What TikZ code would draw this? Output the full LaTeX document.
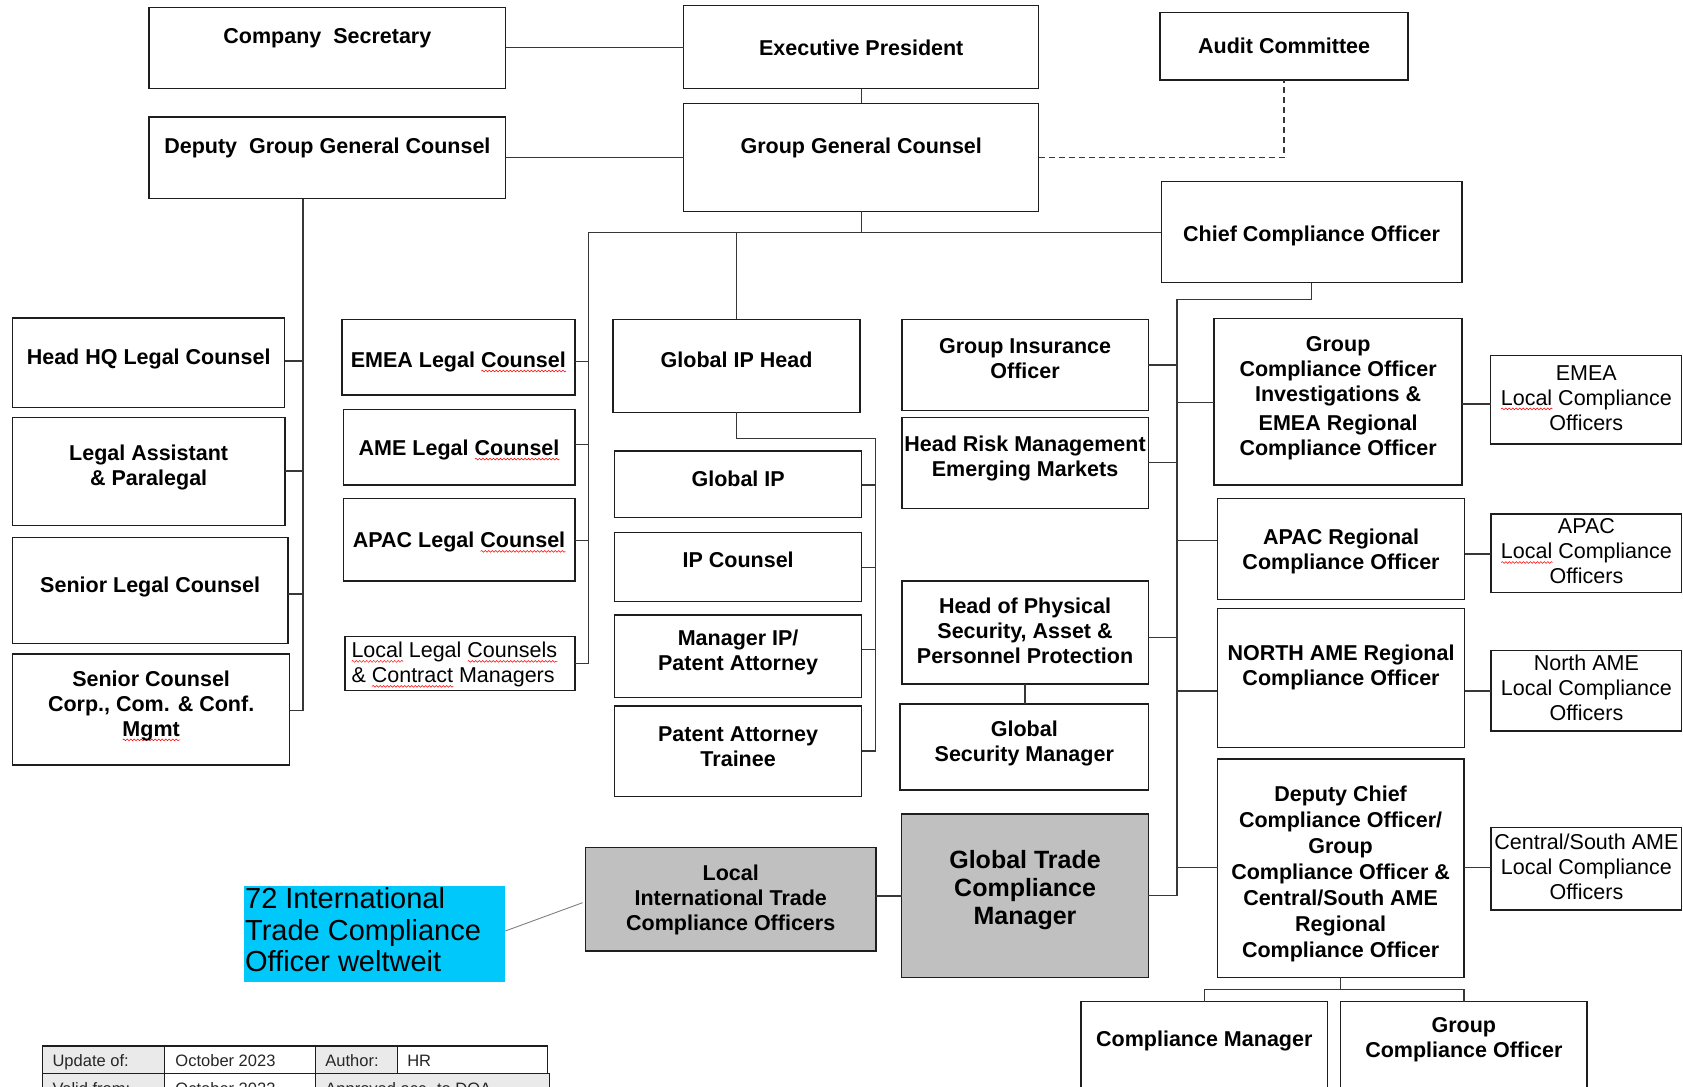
\documentclass[tikz,border=0pt]{standalone}
\usepackage{fontspec}
\setmainfont{Liberation Sans}
\usetikzlibrary{fit,decorations.pathmorphing}
\definecolor{cyanfill}{RGB}{0,200,250}
\definecolor{boxgrey}{RGB}{192,192,192}
\definecolor{cellgrey}{RGB}{234,234,234}
\definecolor{linecol}{RGB}{55,55,55}
\definecolor{bordercol}{RGB}{30,30,30}
\newsavebox\wvbox
\newcommand\rwave[1]{\sbox\wvbox{#1}\rlap{\tikz[baseline=0pt]\draw[red, line width=0.5pt, decorate, decoration={snake, amplitude=0.9pt, segment length=3.5pt}] (0pt,-3.8pt) -- (\the\wd\wvbox,-3.8pt);}\usebox\wvbox}
\newcommand{\obox}[6][]{%
  \coordinate (#2-a) at (#3,#4);
  \coordinate (#2-b) at (#5,#6);
  \node[orgbox,fit=(#2-a)(#2-b),#1] (#2) {};
}
\tikzset{
  orgbox/.style={draw=bordercol, line width=1.5pt, inner sep=0pt, outer sep=0pt, rectangle},
  conn/.style={draw=linecol, line width=1.4pt},
  bt/.style={align=center, inner sep=0pt, font=\fontsize{21.5}{25}\selectfont\bfseries,
    execute at begin node=\strut, execute at end node=\strut, yshift=-2.7pt},
  rt/.style={bt, font=\fontsize{21.5}{25}\selectfont},
  tabt/.style={inner sep=0pt, font=\fontsize{16.5}{19}\selectfont, text=black!85},
  cell/.style={draw=bordercol, line width=1.2pt, inner sep=0pt, outer sep=0pt, rectangle},
}
\begin{document}
\begin{tikzpicture}[x=1.0733pt, y=-1.0733pt]
\useasboundingbox (0,0) rectangle (1568,1012);
\fill[white] (0,0) rectangle (1568,1012);
\clip (0,0) rectangle (1568,1012);

% ---- top level
\obox{cs}{139}{7}{471}{82.6}
\node[bt] (cs-t) at (305,33.7) {Company\ \ Secretary};
\obox{ep}{637}{5.3}{967.7}{82.6}
\node[bt] (ep-t) at (802.4,44.4) {Executive President};
\obox{audit}{1080.7}{11.8}{1312}{74.5}
\node[bt] (audit-t) at (1196.4,42.9) {Audit Committee};
\obox{dgc}{139}{109}{471}{185}
\node[bt] (dgc-t) at (305,135.9) {Deputy\ \ Group General Counsel};
\obox{ggc}{637}{96.3}{967.7}{197}
\node[bt] (ggc-t) at (802.4,135.7) {Group General Counsel};
\obox{cco}{1082}{169.3}{1362}{263.4}
\node[bt] (cco-t) at (1222,217.4) {Chief Compliance Officer};

% ---- left column
\obox{hq}{11.7}{296.3}{265.2}{379.5}
\node[bt] (hq-t) at (138.5,332.3) {Head HQ Legal Counsel};
\obox{la}{11.7}{388.8}{265.3}{489.8}
\node[bt] (la-t) at (138.5,434) {Legal Assistant\\\& Paralegal};
\obox{slc}{11.7}{500.6}{268.1}{599.4}
\node[bt] (slc-t) at (139.9,544.4) {Senior Legal Counsel};
\obox{sc}{11.7}{609.3}{269.9}{712.8}
\node[bt] (sc-t) at (140.8,656.2) {Senior Counsel\\Corp., Com. \& Conf.\\\rwave{Mgmt}};

% ---- legal counsels
\obox{emea}{318.4}{297.5}{535.5}{368}
\node[bt] (emea-t) at (427,335) {EMEA Legal \rwave{Counsel}};
\obox{ame}{319.8}{381.4}{535.5}{451.9}
\node[bt] (ame-t) at (427.7,417) {AME Legal \rwave{Counsel}};
\obox{apac}{319.8}{464.6}{535.5}{541.3}
\node[bt] (apac-t) at (427.7,503) {APAC Legal \rwave{Counsel}};
\obox{llc}{321.3}{593.2}{535.5}{643.5}
\node[rt, align=left, anchor=west] (llc-t) at (327.3,618) {\rwave{Local} Legal \rwave{Counsels}\\\& \rwave{Contract} Managers};

% ---- IP
\obox{iph}{571}{297.5}{801.3}{384.2}
\node[bt] (iph-t) at (686.2,335.4) {Global IP Head};
\obox{gip}{572.7}{420.2}{802.7}{482}
\node[bt] (gip-t) at (687.7,445.7) {Global IP};
\obox{ipc}{572.7}{496}{802.7}{560.3}
\node[bt] (ipc-t) at (687.7,521.8) {IP Counsel};
\obox{mip}{572.7}{573}{802.7}{649.7}
\node[bt] (mip-t) at (687.7,607.2) {Manager IP/\\Patent Attorney};
\obox{pat}{572.7}{657.8}{802.7}{742.3}
\node[bt] (pat-t) at (687.7,696.5) {Patent Attorney\\Trainee};

% ---- middle right
\obox{gio}{840.2}{297.5}{1069.8}{382.6}
\node[bt] (gio-t) at (955,334.7) {Group Insurance\\Officer};
\obox{hrm}{840.2}{389.1}{1069.8}{473.6}
\node[bt] (hrm-t) at (955,426) {Head Risk Management\\Emerging Markets};
\obox{hps}{840.2}{541.3}{1069.8}{637.3}
\node[bt] (hps-t) at (955,588.7) {Head of Physical\\Security, Asset \&\\Personnel Protection};
\obox{gsm}{838.7}{656}{1069.8}{736}
\node[bt] (gsm-t) at (954.3,691.5) {Global\\Security Manager};
\obox[fill=boxgrey]{gtcm}{840.1}{758.4}{1069.8}{910.6}
\node[bt, font=\fontsize{25}{27.7}\selectfont\bfseries] (gtcm-t) at (955,828.3) {Global Trade\\Compliance\\Manager};
\obox[fill=boxgrey]{litco}{545.6}{789.5}{815.9}{885.8}
\node[bt] (litco-t) at (680.8,837.1) {Local\\International Trade\\Compliance Officers};

% ---- compliance column
\obox{gco}{1131.1}{296.6}{1362.3}{451.9}
\node[bt] (gco-t) at (1246.7,369.6) {Group\\Compliance Officer\\Investigations \&\\[4pt]EMEA Regional\\Compliance Officer};
\obox{apacr}{1134.2}{464.6}{1364.5}{558.4}
\node[bt] (apacr-t) at (1249.4,512.4) {APAC Regional\\Compliance Officer};
\obox{north}{1134.2}{567.1}{1364.5}{696.6}
\node[bt] (north-t) at (1249.4,620.3) {NORTH AME Regional\\Compliance Officer};
\obox{dcco}{1134.3}{707.2}{1363.8}{910.6}
\node[bt, font=\fontsize{21.5}{26}\selectfont\bfseries] (dcco-t) at (1249,813.2) {Deputy Chief\\Compliance Officer/\\Group\\Compliance Officer \&\\Central/South AME\\Regional\\Compliance Officer};

% ---- local compliance officers
\obox{emeal}{1388.7}{331}{1566.5}{413.7}
\node[rt] (emeal-t) at (1477.9,371.5) {EMEA\\\rwave{Local} Compliance\\Officers};
\obox{apacl}{1388.9}{478.9}{1566.5}{552.2}
\node[rt] (apacl-t) at (1478,514.5) {APAC\\\rwave{Local} Compliance\\Officers};
\obox{northl}{1388.9}{606.2}{1566.5}{681.1}
\node[rt] (northl-t) at (1478,641.8) {North AME\\Local Compliance\\Officers};
\obox{csl}{1389}{770.8}{1566.5}{847.9}
\node[rt] (csl-t) at (1478,808.3) {Central/South AME\\Local Compliance\\Officers};

% ---- bottom
\obox{cm}{1007.3}{933.2}{1236.7}{1040}
\node[bt] (cm-t) at (1122,967.4) {Compliance Manager};
\obox{gco2}{1249.1}{933.2}{1478.5}{1040}
\node[bt] (gco2-t) at (1363.8,967.2) {Group\\Compliance Officer};

% ---- callout
\obox[draw=none, fill=cyanfill]{callout}{227.5}{825.5}{470.7}{914.6}
\node[rt, align=left, anchor=west, font=\fontsize{29}{31.7}\selectfont] (callout-t) at (228.2,868) {72 International\\Trade Compliance\\Officer weltweit};

% ---- table
\obox[cell, fill=cellgrey]{c11}{39.8}{974.6}{153}{1000}
\obox[cell, fill=white]{c12}{153}{974.6}{294.3}{1000}
\obox[cell, fill=cellgrey]{c13}{294.3}{974.6}{370.6}{1000}
\obox[cell, fill=white]{c14}{370.6}{974.6}{510.2}{1000}
\obox[cell, fill=cellgrey]{c21}{39.8}{1000}{153}{1026}
\obox[cell, fill=white]{c22}{153}{1000}{294.3}{1026}
\obox[cell, fill=cellgrey]{c23}{294.3}{1000}{511.9}{1026}
\node[tabt, anchor=base west] (t11) at (48.8,993.8) {Update of:};
\node[tabt, anchor=base west] (t12) at (163.3,993.8) {October 2023};
\node[tabt, anchor=base west] (t13) at (303,993.8) {Author:};
\node[tabt, anchor=base west] (t14) at (379.3,993.8) {HR};
\node[tabt, anchor=base west] (t21) at (48.8,1019.5) {Valid from:};
\node[tabt, anchor=base west] (t22) at (163.3,1019.5) {October 2023};
\node[tabt, anchor=base west] (t23) at (303,1019.5) {Approved acc. to DOA};

% ---- connectors
\draw[conn] (cs.east |- 0,44.5) -- (ep.west |- 0,44.5);
\draw[conn] (ep.south) -- (ggc.north);
\draw[conn] (dgc.east |- 0,146.9) -- (ggc.west |- 0,146.9);
\draw[conn, dash pattern=on 6pt off 4pt] (ggc.east |- 0,146.6) -| (audit.south);

\coordinate (gj) at (ggc.south |- 0,216.5);
\draw[conn] (ggc.south) -- (gj) -- (cco.west |- gj);
\draw[conn] (gj) -| (548.4,618) -- (llc.east |- 0,618);
\draw[conn] (iph.north |- gj) -- (iph.north);
\draw[conn] (emea.east |- 0,337) -- (548.4,337);
\draw[conn] (ame.east |- 0,414) -- (548.4,414);
\draw[conn] (apac.east |- 0,503.8) -- (548.4,503.8);

\draw[conn] (dgc.south -| 282.2,0) -- (282.2,662.1) -- (sc.east |- 0,662.1);
\draw[conn] (hq.east |- 0,336.4) -- (282.2,336.4);
\draw[conn] (la.east |- 0,438.8) -- (282.2,438.8);
\draw[conn] (slc.east |- 0,553.4) -- (282.2,553.4);

\draw[conn] (iph.south) -- (iph.south |- 0,408.4) -| (815.9,699.7) -- (pat.east |- 0,699.7);
\draw[conn] (gip.east |- 0,451.9) -- (815.9,451.9);
\draw[conn] (ipc.east |- 0,528.6) -- (815.9,528.6);
\draw[conn] (mip.east |- 0,605) -- (815.9,605);

\draw[conn] (cco.south) -- (cco.south |- 0,278.9) -| (1096.6,834.5) -- (gtcm.east |- 0,834.5);
\draw[conn] (gio.east |- 0,340) -- (1096.6,340);
\draw[conn] (hrm.east |- 0,430.7) -- (1096.6,430.7);
\draw[conn] (hps.east |- 0,593.8) -- (1096.6,593.8);
\draw[conn] (1096.6,374.9) -- (gco.west |- 0,374.9);
\draw[conn] (1096.6,503.7) -- (apacr.west |- 0,503.7);
\draw[conn] (1096.6,643.8) -- (north.west |- 0,643.8);
\draw[conn] (1096.6,808.4) -- (dcco.west |- 0,808.4);

\draw[conn] (gco.east |- 0,376.4) -- (emeal.west |- 0,376.4);
\draw[conn] (apacr.east |- 0,516.2) -- (apacl.west |- 0,516.2);
\draw[conn] (north.east |- 0,643.8) -- (northl.west |- 0,643.8);
\draw[conn] (dcco.east |- 0,808.4) -- (csl.west |- 0,808.4);

\draw[conn] (hps.south) -- (hps.south |- gsm.north);
\draw[conn] (gtcm.west |- 0,834.8) -- (litco.east |- 0,834.8);
\draw[draw=gray, line width=0.9pt] (callout.east |- 0,867.4) -- ([xshift=-3pt]litco.west |- 0,841);

\draw[conn] (dcco.south) -- (dcco.south |- 0,921.8) coordinate (dj);
\draw[conn] (cm.north |- dj) -- (gco2.north |- dj);
\draw[conn] (cm.north |- dj) -- (cm.north);
\draw[conn] (gco2.north |- dj) -- (gco2.north);
\end{tikzpicture}
\end{document}
